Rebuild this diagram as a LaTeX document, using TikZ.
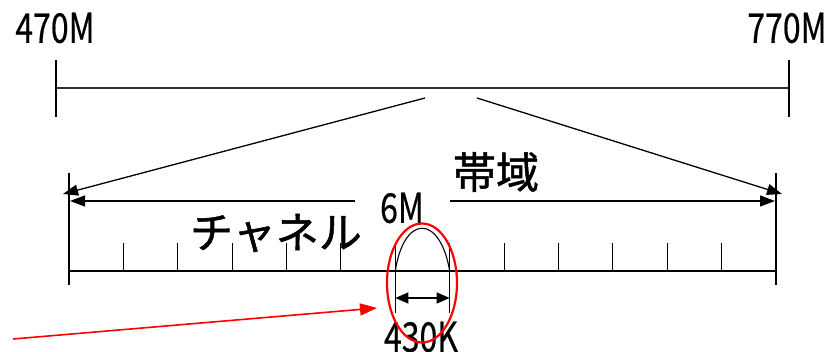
\documentclass[tikz,border=0pt]{standalone}
\usepackage{fontspec}
\usepackage{graphicx}
\setmainfont{Noto Sans CJK JP}
\newfontfamily\jpbold[FakeBold=1.2]{Noto Sans CJK JP}
\newfontfamily\numfont[FakeBold=0.6]{Noto Sans CJK JP}
\usetikzlibrary{arrows.meta,shapes.geometric}
\tikzset{
  numlbl/.style={inner sep=0pt, font=\numfont\fontsize{41}{41}\selectfont},
  jplbl/.style={inner sep=0pt, font=\jpbold\fontsize{43}{43}\selectfont},
  ln/.style={line width=1.1pt, black},
  arr/.style={line width=1.3pt, -{Triangle[length=15pt,width=11pt]}},
  darr/.style={line width=1.3pt, {Triangle[length=13pt,width=11pt]}-{Triangle[length=13pt,width=11pt]}},
  redarr/.style={line width=1.6pt, red, -{Triangle[length=17pt,width=12pt]}},
}
\begin{document}
\begin{tikzpicture}[x=1pt,y=-1pt]
\useasboundingbox (0,0) rectangle (838,352);
% labels
\node[numlbl] (l470) at (55,28) {\scalebox{0.78}[1]{470M}};
\node[numlbl] (l770) at (787,28) {\scalebox{0.78}[1]{770M}};
\node[jplbl] (band) at (496,172) {帯域};
\node[jplbl] (chan) at (276,233) {チャネル};
\node[numlbl] (l6m) at (402,208) {\scalebox{0.78}[1]{6M}};
\node[numlbl] (l430) at (421,337) {\scalebox{0.78}[1]{430K}};
% top scale
\coordinate (tl) at (56,88);
\coordinate (tr) at (789,88);
\draw[line width=1.5pt, black!80] (tl) -- (tr);
\draw[ln] (56,60) -- (56,117);
\draw[ln] (789,60) -- (789,117);
% diagonals
\coordinate (dl) at (425,98);
\coordinate (dr) at (477,98);
\coordinate (al) at (63,194);
\coordinate (ar) at (782,194);
\draw[arr] (dl) -- (al);
\draw[arr] (dr) -- (ar);
% lower scale
\draw[ln] (69,173) -- (69,285);
\draw[ln] (776,173) -- (776,285);
\coordinate (hl) at (355,201);
\coordinate (hr) at (450,201);
\coordinate (hle) at (70,201);
\coordinate (hre) at (775,201);
\draw[arr] (hl) -- (hle);
\draw[arr] (hr) -- (hre);
\coordinate (bl) at (69,271);
\coordinate (br) at (776,271);
\draw[ln] (bl) -- (br);
\foreach \i in {1,2,3,4,5,8,9,10,11,12}{
  \draw[ln] ({69+\i*54.385},243) -- ({69+\i*54.385},271);
}
% channel
\coordinate (c1) at (395.3,271);
\coordinate (c2) at (449.7,271);
\draw[ln] (395.3,243) -- (395.3,313);
\draw[ln] (449.7,243) -- (449.7,313);
\draw[ln] (c1) .. controls (404,214) and (440,214) .. (c2);
\coordinate (w1) at (395.3,298);
\coordinate (w2) at (449.7,298);
\draw[darr] (w1) -- (w2);
% red marks
\node[draw=red, line width=2.2pt, ellipse, minimum width=70pt, minimum height=119pt, inner sep=0pt] (oval) at (422,283) {};
\coordinate (rs) at (13,339);
\coordinate (re) at (377,308);
\draw[redarr] (rs) -- (re);
\end{tikzpicture}
\end{document}
